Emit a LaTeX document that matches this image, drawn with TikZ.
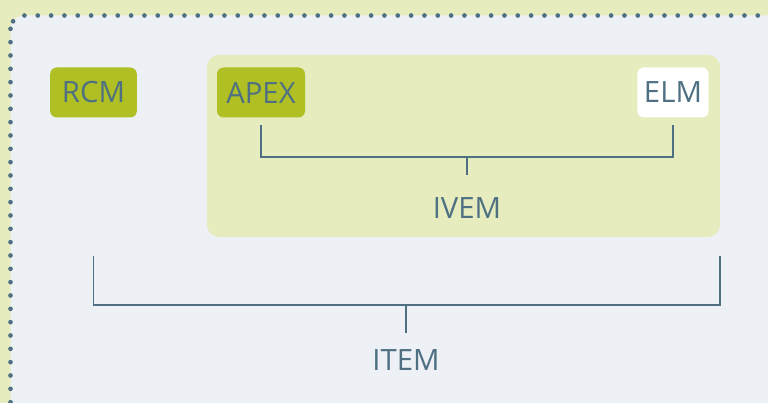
\documentclass[tikz,border=0pt]{standalone}
\usepackage{fontspec}
\setmainfont{Open Sans}
\usepackage{tikz}

\definecolor{leaf}{HTML}{E6ECBE}
\definecolor{mist}{HTML}{EDF1F5}
\definecolor{olive}{HTML}{AFBF24}
\definecolor{slate}{HTML}{4E7082}

\tikzset{
  tag/.style={rounded corners=5pt, minimum height=37.5pt, inner xsep=5pt,
    text=slate, font=\fontsize{22}{26}\selectfont},
  label/.style={text=slate, font=\fontsize{22}{26}\selectfont},
  brace/.style={slate, line width=1.1pt}
}

\begin{document}
\begin{tikzpicture}[x=0.75pt, y=-0.75pt]
\useasboundingbox (0,0) rectangle (768,403);
\fill[leaf] (0,0) rectangle (768,403);
% outer dotted panel
\draw[slate, fill=mist, line width=3.5pt, line cap=round,
  dash pattern=on 0pt off 10pt, rounded corners=10pt]
  (10.5,15.5) rectangle (790,425);
% inner panel
\fill[leaf, rounded corners=9pt] (207,55) rectangle (720,237);
\coordinate (ivembox) at (720,237);
%
\node[tag, fill=olive, minimum width=65pt] (rcm) at (93.5,92.5) {RCM};
\node[tag, fill=olive, minimum width=66pt] (apex) at (261,92.5) {APEX};
\node[tag, fill=white, minimum width=51pt] (elm) at (673,92.5) {ELM};
%
\node[label] (ivem) at (467,208) {IVEM};
\node[label] (item) at (406,360) {ITEM};
%
\draw[brace] ([yshift=-5.5pt]apex.south) |- (467,157) coordinate (mid)
  -| ([yshift=-5.5pt]elm.south);
\draw[brace] (mid) -- ([yshift=13pt]ivem.north);
%
\draw[brace] ([yshift=-14pt]ivembox) |- (406,305) coordinate (low)
  -| ([yshift=-104pt]rcm.south);
\draw[brace] (low) -- ([yshift=9pt]item.north);
\end{tikzpicture}
\end{document}
